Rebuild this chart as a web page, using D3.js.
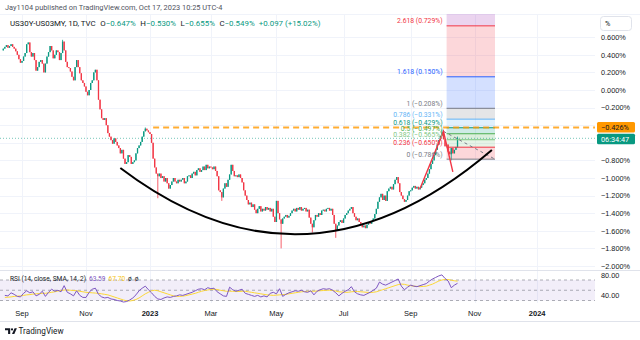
<!DOCTYPE html>
<html><head><meta charset="utf-8">
<script src="https://cdn.jsdelivr.net/npm/d3@7"></script>
<style>
html,body{margin:0;padding:0;background:#fff;}
svg{display:block;font-family:Roboto,"Noto Sans","DejaVu Sans",sans-serif;}
</style></head><body>
<svg id="c" width="640" height="340"></svg>
<script>
// ---------------- DATA ----------------
// daily closes (%), US30Y-US03MY, per month
const aug22 = [0.47,0.49,0.51,0.48,0.50,0.52,0.49,0.47,0.44,0.40,0.35,0.31];
const sep22 = [0.33,0.38,0.42,0.52,0.54,0.43,0.38,0.42,0.34,0.22,0.26,0.32,0.34,0.30,0.20,0.30,0.38,0.43,0.50,0.45,0.36];
const oct22 = [0.40,0.45,0.43,0.34,0.42,0.55,0.45,0.32,0.26,0.25,0.21,0.15,0.11,0.26,0.34,0.26,0.19,0.11,0.08,0.04];
const nov22 = [-0.02,-0.06,0.00,0.08,0.11,0.20,0.23,0.11,-0.11,-0.22,-0.32,-0.34,-0.32,-0.40,-0.49,-0.53,-0.57,-0.61,-0.55,-0.59];
const dec22 = [-0.63,-0.66,-0.72,-0.68,-0.78,-0.84,-0.82,-0.74,-0.76,-0.84,-0.82,-0.80,-0.72,-0.66,-0.63,-0.59,-0.53,-0.47,-0.44,-0.46,-0.48];
const jan23 = [-0.50,-0.60,-0.78,-0.88,-0.95,-0.98,-0.95,-1.00,-0.98,-1.04,-1.00,-1.06,-1.12,-1.08,-1.04,-1.00,-1.04,-1.06,-1.02,-1.04];
const feb23 = [-1.02,-1.00,-1.06,-1.04,-0.98,-0.97,-1.00,-0.95,-0.93,-0.97,-0.91,-0.89,-0.93,-0.91,-0.87,-0.91,-0.85,-0.89,-0.87];
const mar23 = [-0.88,-0.90,-0.87,-0.92,-0.98,-1.14,-1.16,-1.22,-1.12,-1.06,-1.10,-1.02,-0.96,-0.85,-0.92,-0.98,-0.97,-0.99,-0.96,-1.00,-1.05,-1.14,-1.20];
const apr23 = [-1.25,-1.30,-1.28,-1.33,-1.30,-1.36,-1.40,-1.35,-1.32,-1.38,-1.35,-1.37,-1.33,-1.36,-1.34,-1.38,-1.35,-1.44,-1.50];
const may23 = [-1.26,-1.40,-1.47,-1.52,-1.46,-1.44,-1.42,-1.45,-1.43,-1.40,-1.37,-1.35,-1.38,-1.34,-1.36,-1.33,-1.37,-1.35,-1.34,-1.38,-1.36,-1.45];
const jun23 = [-1.52,-1.56,-1.48,-1.42,-1.44,-1.40,-1.42,-1.37,-1.36,-1.38,-1.35,-1.34,-1.37,-1.35,-1.42,-1.52,-1.60,-1.54,-1.50,-1.48,-1.51];
const jul23 = [-1.46,-1.42,-1.40,-1.37,-1.35,-1.33,-1.40,-1.44,-1.48,-1.46,-1.50,-1.52,-1.56,-1.54,-1.57,-1.53,-1.50,-1.52,-1.49,-1.46];
const aug23 = [-1.41,-1.35,-1.27,-1.22,-1.18,-1.25,-1.20,-1.26,-1.15,-1.12,-1.10,-1.13,-1.07,-1.02,-0.99,-1.06,-1.16,-1.20,-1.24,-1.27,-1.25,-1.20,-1.15];
const sep23 = [-1.14,-1.11,-1.09,-1.12,-1.10,-1.13,-1.11,-1.08,-1.06,-1.02,-1.00,-0.95,-0.90,-0.84,-0.80,-0.74,-0.68,-0.62,-0.57,-0.52];
const oct23 = [-0.48,-0.56,-0.64,-0.62,-0.70,-0.73,-0.66,-0.72,-0.68,-0.647,-0.549];
const firstOpen = 0.45;
// notable wicks: [date, high, low]
const wicks = [
  ["2022-10-11", 0.57, null], ["2022-12-28", -0.426, null], ["2023-01-10", null, -1.23],
  ["2023-03-10", null, -1.26], ["2023-05-04", null, -1.80], ["2023-06-02", null, -1.62],
  ["2023-06-26", null, -1.68], ["2023-10-02", -0.45, null], ["2023-10-11", null, -0.80],
  ["2023-10-17", -0.530, -0.655]
];
// RSI(14) and its SMA(14), every other session
const rsiVals = [40,39,45,42,38,37,44,49,45,47, 39,42,48,38,46,52,48,50,47,59, 46,43,39,49,40,36,36,46,52,54,
  42,37,35,36,33,32,30,29,27,28, 31,35,41,49,54,58,51,45,38,33, 32,35,37,36,38,39,41,40,42,44,
  46,49,52,53,51,55,53,54,47,43, 39,38,56,51,48,50,52,44,42,40, 38,40,37,39,37,44,46,43,53,38,
  42,45,47,49,48,50,47,46,49,41, 48,51,53,52,53,50,45,39,44,48, 51,57,47,43,41,40,43,46,50,54,
  66,62,60,63,66,69,72,58,51,56, 60,58,57,59,61,63,68,72,75,78, 80,73,68,55,60,63.59];
const smaVals = [36,36.5,37,38,38.5,39,40,41,41.5,42.5, 43,43.5,44,44,45,46,47,48.5,49.5,50.5, 50.5,50,49.5,49,48,47,46,45.5,45,44.5,
  44,43,42,41,39,37,35,33,31,29.5, 29,30,32,35,39,43,46,49,50,49, 47,45,43,41,39,38,38,38.5,39.5,41,
  42.5,44,46,48,49.5,50.5,51.5,52,51.5,50, 49,48,48,48,47.5,47.5,48,48,47,46, 45,44,43,42,41,40.5,40,40.5,41,41.5,
  42,43,44,45,46,47,47.5,48,48,48, 48.5,49,49.5,50,50,49.5,48.5,47,46.5,46, 46,47,47.5,47.5,47,46.5,46,45.5,46,47,
  49,51,53,55,57,59,61,62,61.5,60, 59,58,57.5,57,57.5,58,60,62,65,68, 70,71,71,69.5,68.5,67.7];
// Fibonacci retracement drawing
const fibLevels = [0,0.236,0.382,0.5,0.618,0.786,1,1.618,2.618,3.618];
const fibValues = [-0.786,-0.650,-0.565,-0.497,-0.429,-0.331,-0.208,0.150,0.729,1.307];
const fibColors = ["#787b86","#f23645","#81c784","#4caf50","#089981","#64b5f6","#787b86","#2962ff","#f23645","#9c27b0"];
const fibSpan = ["2023-10-05","2023-11-21"];
// other drawings [date, value]
const arcPoints = [["2022-12-05",-0.886],["2023-05-26",-2.489],["2023-11-17",-0.682]];
const redLine = [["2023-09-12",-1.12],["2023-10-03",-0.47],["2023-10-12",-0.93]];
const grayDash = [["2023-10-03",-0.47],["2023-11-21",-0.786]];
const rayStart = "2023-01-05", rayValue = -0.426;
const lastPrice = -0.549;
// axes
const priceTicks = [0.6,0.4,0.2,0,-0.2,-0.4,-0.6,-0.8,-1.0,-1.2,-1.4,-1.6,-1.8,-2.0];
const hiddenPriceLabels = [-0.4,-0.6]; // covered by the price labels in the picture
const rsiTicks = [80,40];
const rsiLevels = [70,50,30];
const timeTicks = ["2022-09-01","2022-11-01","2023-01-03","2023-03-01","2023-05-01","2023-07-03","2023-09-01","2023-11-01","2024-01-02"];
const timeLabels = ["Sep","Nov","2023","Mar","May","Jul","Sep","Nov","2024"];
const holidays = ["2022-09-05","2022-10-10","2022-11-11","2022-11-24","2022-12-26","2023-01-02","2023-01-16","2023-02-20","2023-04-07","2023-05-29","2023-06-19","2023-07-04","2023-09-04","2023-10-09","2023-11-10","2023-11-23","2023-12-25","2024-01-01","2024-01-15"];

// ---------------- BUILD ----------------
const svg = d3.select("#c");
const fmtDay = d3.utcFormat("%Y-%m-%d");
const allDays = d3.utcDay.range(new Date(Date.UTC(2022,7,16)), new Date(Date.UTC(2024,1,20)))
  .filter(d => { const w = d.getUTCDay(); return w !== 0 && w !== 6 && !holidays.includes(fmtDay(d)); })
  .map(fmtDay);
const step = 1.561, x0 = 2.49;
const x = d3.scaleBand().domain(allDays).range([x0, x0 + step * allDays.length]).padding(0);
const xc = d => x(d) + x.bandwidth() / 2;
const y = d3.scaleLinear().domain([-2, 0.6]).range([266, 37.2]);
const yR = d3.scaleLinear().domain([30, 70]).range([300.5, 280]);
const PANE_R = 595, PANE_T = 14, PANE_B = 270;
const UP = "#089981", DN = "#f23645";
const fmtPct = v => (v < -1e-9 ? "\u2212" : "") + Math.abs(v).toFixed(3) + "%";

const months = [["2022-08",aug22],["2022-09",sep22],["2022-10",oct22],["2022-11",nov22],["2022-12",dec22],
  ["2023-01",jan23],["2023-02",feb23],["2023-03",mar23],["2023-04",apr23],["2023-05",may23],["2023-06",jun23],
  ["2023-07",jul23],["2023-08",aug23],["2023-09",sep23],["2023-10",oct23]];
const bars = [];
months.forEach(([m, arr]) => {
  const md = allDays.filter(d => d.startsWith(m));
  arr.forEach((c, j) => { if (md[j]) bars.push({date: md[j], close: c}); });
});
bars.forEach((b, i) => {
  b.open = i ? bars[i-1].close : firstOpen;
  b.high = Math.max(b.open, b.close); b.low = Math.min(b.open, b.close);
});
const byDate = new Map(bars.map(b => [b.date, b]));
wicks.forEach(([d, h, l]) => { const b = byDate.get(d); if (!b) return; if (h !== null) b.high = Math.max(b.high, h); if (l !== null) b.low = Math.min(b.low, l); });
const rsiDays = bars.filter((b, i) => i % 2 === 1).map(b => b.date);

// defs / clip
const defs = svg.append("defs");
defs.append("clipPath").attr("id","pc").append("rect").attr("x",0).attr("y",PANE_T).attr("width",PANE_R).attr("height",PANE_B-PANE_T);

// ---------- grid ----------
const grid = svg.append("g");
grid.selectAll(".hg").data(priceTicks).join("line")
  .attr("x1",0).attr("x2",PANE_R).attr("y1",d=>Math.round(y(d))+0.5).attr("y2",d=>Math.round(y(d))+0.5)
  .attr("stroke","#f0f3fa").attr("stroke-width",1);
grid.selectAll(".vg").data(timeTicks).join("line")
  .attr("x1",d=>Math.round(xc(d))+0.5).attr("x2",d=>Math.round(xc(d))+0.5).attr("y1",PANE_T).attr("y2",303)
  .attr("stroke","#f0f3fa").attr("stroke-width",1);
svg.append("line").attr("x1",0).attr("x2",640).attr("y1",PANE_T+0.5).attr("y2",PANE_T+0.5).attr("stroke","#f0f3fa");
svg.append("line").attr("x1",0).attr("x2",640).attr("y1",270.5).attr("y2",270.5).attr("stroke","#e0e3eb");
svg.append("line").attr("x1",0).attr("x2",640).attr("y1",321.5).attr("y2",321.5).attr("stroke","#e0e3eb");

// ---------- price pane ----------
const pane = svg.append("g").attr("clip-path","url(#pc)");
const fx1 = xc(fibSpan[0]), fx2 = xc(fibSpan[1]);
// fib zones
const zones = d3.range(1, fibLevels.length).map(i => ({lo: fibValues[i-1], hi: fibValues[i], c: fibColors[i]}));
pane.selectAll(".fz").data(zones).join("rect")
  .attr("x",fx1).attr("width",fx2-fx1)
  .attr("y",d=>y(d.hi)).attr("height",d=>y(d.lo)-y(d.hi))
  .attr("fill",d=>d.c).attr("fill-opacity",0.2);
// last price line
pane.append("line").attr("x1",0).attr("x2",PANE_R).attr("y1",y(lastPrice)).attr("y2",y(lastPrice))
  .attr("stroke",UP).attr("stroke-opacity",0.55).attr("stroke-dasharray","1,2");
// candles
const cg = pane.append("g");
cg.selectAll(".wk").data(bars).join("line")
  .attr("x1",d=>xc(d.date)).attr("x2",d=>xc(d.date))
  .attr("y1",d=>y(d.high)).attr("y2",d=>y(d.low))
  .attr("stroke",d=>d.close>=d.open?UP:DN).attr("stroke-width",0.8);
cg.selectAll(".bd").data(bars).join("rect")
  .attr("x",d=>xc(d.date)-0.65).attr("width",1.3)
  .attr("y",d=>y(Math.max(d.open,d.close)))
  .attr("height",d=>Math.max(1, y(Math.min(d.open,d.close))-y(Math.max(d.open,d.close))))
  .attr("fill",d=>d.close>=d.open?UP:DN);
// fib lines
pane.selectAll(".fl").data(fibValues).join("line")
  .attr("x1",fx1).attr("x2",fx2).attr("y1",d=>y(d)).attr("y2",d=>y(d))
  .attr("stroke",(d,i)=>fibColors[i]).attr("stroke-width",1);
// orange horizontal ray
pane.append("line").attr("x1",xc(rayStart)).attr("x2",PANE_R).attr("y1",y(rayValue)).attr("y2",y(rayValue))
  .attr("stroke","#ff9800").attr("stroke-width",2).attr("stroke-dasharray","6,4").attr("stroke-opacity",0.8);
// gray dashed trend
pane.append("path").attr("d",d3.line().x(d=>xc(d[0])).y(d=>y(d[1]))(grayDash))
  .attr("fill","none").attr("stroke","#787b86").attr("stroke-width",1).attr("stroke-dasharray","3,3");
// black arc
const ap = d3.path();
ap.moveTo(xc(arcPoints[0][0]), y(arcPoints[0][1]));
ap.quadraticCurveTo(xc(arcPoints[1][0]), y(arcPoints[1][1]), xc(arcPoints[2][0]), y(arcPoints[2][1]));
pane.append("path").attr("d",ap.toString()).attr("fill","none").attr("stroke","#000").attr("stroke-width",2);
// red zigzag
pane.append("path").attr("d",d3.line().x(d=>xc(d[0])).y(d=>y(d[1]))(redLine))
  .attr("fill","none").attr("stroke","#f23645").attr("stroke-width",1.4);
// fib labels
pane.selectAll(".ft").data(fibValues.slice(0,9)).join("text")
  .attr("x",fx1-4).attr("y",d=>y(d)-2.5).attr("text-anchor","end")
  .attr("font-size",6.8).attr("fill",(d,i)=>fibColors[i])
  .text((d,i)=>`${fibLevels[i]} (${fmtPct(d)})`);

// header
svg.append("text").attr("x",5).attr("y",9.5).attr("font-size",7.4).attr("fill","#50535e")
  .text("Jay1104 published on TradingView.com, Oct 17, 2023 10:25 UTC-4");
const lg = svg.append("text").attr("x",10).attr("y",26).attr("font-size",7.9).attr("fill","#131722");
lg.append("tspan").text("US30Y-US03MY, 1D, TVC");
[["O","\u22120.647%"],["H","\u22120.530%"],["L","\u22120.655%"],["C","\u22120.549%"]].forEach(([k,v])=>{
  lg.append("tspan").attr("dx",4.5).text(k);
  lg.append("tspan").attr("fill",UP).text(v);
});
lg.append("tspan").attr("dx",4).attr("fill",UP).text("+0.097 (+15.02%)");

// ---------- RSI pane ----------
const rp = svg.append("g");
rp.append("rect").attr("x",0).attr("width",PANE_R).attr("y",yR(70)).attr("height",yR(30)-yR(70))
  .attr("fill","#7e57c2").attr("fill-opacity",0.1);
rp.selectAll(".rl").data(rsiLevels).join("line")
  .attr("x1",0).attr("x2",PANE_R).attr("y1",d=>yR(d)).attr("y2",d=>yR(d))
  .attr("stroke","#787b86").attr("stroke-opacity",0.6).attr("stroke-dasharray","3,3");
rp.append("path").attr("d",d3.line().x((d,i)=>xc(rsiDays[i])).y(d=>yR(d))(smaVals))
  .attr("fill","none").attr("stroke","#fdd835").attr("stroke-width",1);
rp.append("path").attr("d",d3.line().x((d,i)=>xc(rsiDays[i])).y(d=>yR(d))(rsiVals))
  .attr("fill","none").attr("stroke","#7e57c2").attr("stroke-width",1);
const rl = rp.append("text").attr("x",10).attr("y",281.3).attr("font-size",6.6).attr("fill","#131722");
rl.append("tspan").text("RSI (14, close, SMA, 14, 2)");
rl.append("tspan").attr("dx",3).attr("fill","#7e57c2").text(rsiVals[rsiVals.length-1].toFixed(2));
rl.append("tspan").attr("dx",3).attr("fill","#f5c518").text(smaVals[smaVals.length-1].toFixed(2));
rl.append("tspan").attr("dx",3).attr("fill","#131722").text("\u00f8");
rl.append("tspan").attr("dx",3).attr("fill","#131722").text("\u00f8");

// ---------- axes ----------
const labelTicks = priceTicks.filter(v => !hiddenPriceLabels.includes(v));
const ya = svg.append("g").attr("transform","translate(601,0)")
  .call(d3.axisRight(y).tickValues(labelTicks).tickFormat(fmtPct).tickSize(0).tickPadding(0));
ya.select(".domain").remove();
ya.selectAll("text").attr("font-size",7.3).attr("fill","#131722").attr("font-family",null);
const ra = svg.append("g").attr("transform","translate(601,0)")
  .call(d3.axisRight(yR).tickValues(rsiTicks).tickFormat(d=>d.toFixed(2)).tickSize(0).tickPadding(0));
ra.select(".domain").remove();
ra.selectAll("text").attr("font-size",7.3).attr("fill","#131722").attr("font-family",null);
const xa = svg.append("g").attr("transform","translate(0,311)")
  .call(d3.axisBottom(x).tickValues(timeTicks).tickFormat((d,i)=>timeLabels[i]).tickSize(0).tickPadding(0));
xa.select(".domain").remove();
xa.selectAll("text").attr("font-size",7.5).attr("fill","#131722").attr("font-family",null)
  .attr("font-weight",(d,i)=>/^\d{4}$/.test(timeLabels[i])?"bold":null);

// "%" box
svg.append("rect").attr("x",600.5).attr("y",16.5).attr("width",31).attr("height",14).attr("rx",3)
  .attr("fill","#fff").attr("stroke","#e0e3eb");
svg.append("text").attr("x",605).attr("y",26).attr("font-size",7.3).attr("fill","#131722").text("%");

// price labels
svg.append("rect").attr("x",597).attr("y",y(rayValue)-5.5).attr("width",38).attr("height",10.5).attr("rx",1.5).attr("fill","#ff9800");
svg.append("text").attr("x",601).attr("y",y(rayValue)+2.6).attr("font-size",7.3).attr("fill","#131722").text(fmtPct(rayValue));
svg.append("rect").attr("x",597).attr("y",y(lastPrice)-4.5).attr("width",38).attr("height",10.5).attr("rx",1.5).attr("fill",UP);
svg.append("text").attr("x",601).attr("y",y(lastPrice)+3.4).attr("font-size",7.3).attr("fill","#fff").text("06:34:47");

// TradingView logo
const logo = svg.append("g").attr("fill","#131722");
logo.append("path").attr("d","M5,328.3 H10.2 V334 H8.1 V330.3 H5 Z");
logo.append("circle").attr("cx",12).attr("cy",329.4).attr("r",1.1);
logo.append("path").attr("d","M14.6,328.3 H16.9 L14.3,334 H12 Z");
svg.append("text").attr("x",18.5).attr("y",334).attr("font-size",8.2).attr("fill","#131722").text("TradingView");
</script>
</body></html>
